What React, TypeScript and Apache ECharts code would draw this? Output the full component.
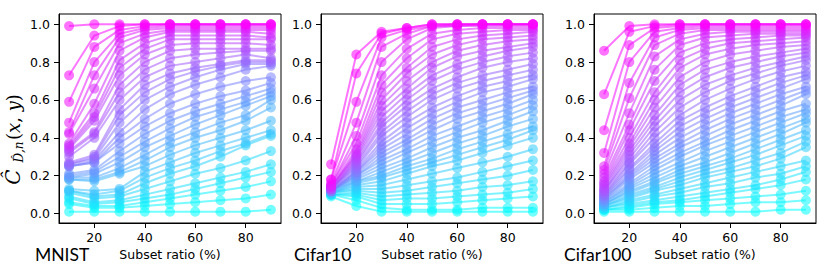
import React, { useEffect, useRef } from "react";
import * as echarts from "echarts";

const subsetRatios = [10, 20, 30, 40, 50, 60, 70, 80, 90];
const xTicks = [20, 40, 60, 80];
const yTicks = [0, 0.2, 0.4, 0.6, 0.8, 1.0];
const panelNames = ["MNIST", "Cifar10", "Cifar100"];
const xAxisName = "Subset ratio (%)";

// each row = one curve (values at 10..90 %), ordered top (magenta) -> bottom (cyan)
const mnistCurves = [
  [0.99, 1.0, 1.0, 1.0, 1.0, 1.0, 1.0, 1.0, 1.0],
  [0.73, 0.94, 0.99, 1.0, 1.0, 1.0, 1.0, 1.0, 1.0],
  [0.59, 0.88, 0.97, 0.99, 1.0, 1.0, 1.0, 1.0, 1.0],
  [0.48, 0.8, 0.95, 0.98, 0.99, 0.99, 0.99, 0.99, 0.99],
  [0.43, 0.73, 0.93, 0.97, 0.98, 0.98, 0.98, 0.98, 0.98],
  [0.42, 0.66, 0.9, 0.95, 0.97, 0.97, 0.97, 0.97, 0.97],
  [0.37, 0.58, 0.86, 0.93, 0.96, 0.96, 0.96, 0.96, 0.95],
  [0.36, 0.53, 0.81, 0.9, 0.94, 0.94, 0.94, 0.94, 0.93],
  [0.35, 0.51, 0.77, 0.87, 0.92, 0.92, 0.92, 0.92, 0.92],
  [0.34, 0.49, 0.73, 0.84, 0.89, 0.9, 0.9, 0.9, 0.89],
  [0.33, 0.43, 0.68, 0.8, 0.86, 0.87, 0.87, 0.87, 0.87],
  [0.32, 0.42, 0.64, 0.76, 0.82, 0.84, 0.85, 0.86, 0.86],
  [0.3, 0.4, 0.6, 0.72, 0.78, 0.8, 0.82, 0.84, 0.82],
  [0.27, 0.31, 0.55, 0.68, 0.74, 0.77, 0.79, 0.81, 0.81],
  [0.26, 0.3, 0.52, 0.64, 0.71, 0.75, 0.78, 0.8, 0.8],
  [0.26, 0.29, 0.48, 0.6, 0.67, 0.72, 0.76, 0.79, 0.79],
  [0.25, 0.28, 0.43, 0.55, 0.63, 0.68, 0.72, 0.76, 0.78],
  [0.25, 0.27, 0.4, 0.5, 0.58, 0.63, 0.67, 0.7, 0.72],
  [0.25, 0.27, 0.37, 0.46, 0.53, 0.58, 0.62, 0.65, 0.69],
  [0.21, 0.23, 0.33, 0.42, 0.49, 0.54, 0.58, 0.62, 0.66],
  [0.2, 0.22, 0.3, 0.38, 0.45, 0.51, 0.55, 0.59, 0.64],
  [0.19, 0.21, 0.27, 0.35, 0.41, 0.47, 0.52, 0.57, 0.62],
  [0.19, 0.19, 0.24, 0.31, 0.38, 0.43, 0.48, 0.52, 0.6],
  [0.18, 0.18, 0.22, 0.28, 0.35, 0.4, 0.44, 0.49, 0.56],
  [0.18, 0.17, 0.21, 0.25, 0.31, 0.36, 0.4, 0.44, 0.49],
  [0.13, 0.12, 0.13, 0.22, 0.27, 0.32, 0.36, 0.4, 0.44],
  [0.12, 0.1, 0.12, 0.19, 0.24, 0.28, 0.33, 0.37, 0.42],
  [0.12, 0.09, 0.1, 0.16, 0.21, 0.25, 0.3, 0.36, 0.41],
  [0.11, 0.08, 0.09, 0.13, 0.17, 0.21, 0.24, 0.28, 0.33],
  [0.09, 0.06, 0.07, 0.1, 0.13, 0.16, 0.19, 0.22, 0.26],
  [0.08, 0.05, 0.06, 0.08, 0.1, 0.13, 0.16, 0.19, 0.22],
  [0.06, 0.04, 0.04, 0.06, 0.08, 0.1, 0.12, 0.14, 0.17],
  [0.05, 0.03, 0.03, 0.04, 0.05, 0.06, 0.07, 0.08, 0.1],
  [0.01, 0.01, 0.01, 0.01, 0.01, 0.01, 0.01, 0.01, 0.02],
];

const cifar10Curves = [
  [0.26, 0.84, 0.96, 0.98, 1.0, 1.0, 1.0, 1.0, 1.0],
  [0.18, 0.74, 0.95, 0.98, 1.0, 1.0, 1.0, 1.0, 1.0],
  [0.18, 0.59, 0.93, 0.97, 0.99, 1.0, 1.0, 1.0, 1.0],
  [0.16, 0.48, 0.88, 0.95, 0.99, 0.99, 1.0, 1.0, 1.0],
  [0.15, 0.41, 0.8, 0.92, 0.98, 0.99, 0.99, 0.99, 0.99],
  [0.15, 0.37, 0.73, 0.87, 0.95, 0.97, 0.98, 0.98, 0.98],
  [0.14, 0.34, 0.68, 0.82, 0.92, 0.95, 0.96, 0.97, 0.97],
  [0.14, 0.32, 0.64, 0.77, 0.88, 0.92, 0.94, 0.95, 0.96],
  [0.14, 0.31, 0.6, 0.74, 0.84, 0.89, 0.92, 0.93, 0.94],
  [0.14, 0.3, 0.57, 0.7, 0.8, 0.86, 0.89, 0.91, 0.92],
  [0.13, 0.29, 0.54, 0.66, 0.77, 0.83, 0.86, 0.88, 0.9],
  [0.13, 0.28, 0.51, 0.63, 0.73, 0.79, 0.83, 0.86, 0.88],
  [0.13, 0.27, 0.48, 0.6, 0.7, 0.76, 0.8, 0.83, 0.85],
  [0.13, 0.26, 0.46, 0.57, 0.66, 0.72, 0.77, 0.8, 0.82],
  [0.13, 0.25, 0.43, 0.54, 0.63, 0.69, 0.73, 0.76, 0.79],
  [0.13, 0.24, 0.41, 0.51, 0.6, 0.66, 0.7, 0.73, 0.76],
  [0.12, 0.23, 0.38, 0.48, 0.56, 0.62, 0.67, 0.7, 0.73],
  [0.12, 0.22, 0.36, 0.45, 0.53, 0.59, 0.64, 0.67, 0.71],
  [0.12, 0.22, 0.34, 0.42, 0.5, 0.56, 0.6, 0.64, 0.67],
  [0.12, 0.21, 0.32, 0.39, 0.47, 0.53, 0.57, 0.61, 0.65],
  [0.12, 0.2, 0.3, 0.37, 0.44, 0.5, 0.54, 0.58, 0.63],
  [0.12, 0.2, 0.28, 0.34, 0.41, 0.46, 0.51, 0.55, 0.6],
  [0.12, 0.19, 0.26, 0.32, 0.38, 0.43, 0.48, 0.52, 0.57],
  [0.12, 0.18, 0.24, 0.29, 0.35, 0.4, 0.44, 0.49, 0.54],
  [0.12, 0.17, 0.22, 0.27, 0.32, 0.37, 0.41, 0.46, 0.5],
  [0.11, 0.17, 0.2, 0.25, 0.29, 0.34, 0.38, 0.42, 0.46],
  [0.11, 0.16, 0.19, 0.23, 0.27, 0.31, 0.35, 0.39, 0.44],
  [0.11, 0.15, 0.17, 0.21, 0.25, 0.28, 0.32, 0.36, 0.4],
  [0.11, 0.14, 0.15, 0.18, 0.21, 0.24, 0.27, 0.3, 0.34],
  [0.11, 0.13, 0.13, 0.15, 0.17, 0.19, 0.22, 0.25, 0.28],
  [0.11, 0.12, 0.11, 0.12, 0.14, 0.16, 0.18, 0.2, 0.23],
  [0.1, 0.11, 0.09, 0.1, 0.11, 0.12, 0.14, 0.15, 0.17],
  [0.1, 0.1, 0.07, 0.08, 0.08, 0.09, 0.1, 0.11, 0.13],
  [0.1, 0.09, 0.05, 0.05, 0.05, 0.06, 0.07, 0.08, 0.09],
  [0.1, 0.07, 0.03, 0.02, 0.02, 0.02, 0.03, 0.03, 0.03],
  [0.09, 0.04, 0.01, 0.01, 0.01, 0.01, 0.01, 0.01, 0.01],
];

const cifar100Curves = [
  [0.86, 0.99, 1.0, 1.0, 1.0, 1.0, 1.0, 1.0, 1.0],
  [0.63, 0.96, 0.99, 1.0, 1.0, 1.0, 1.0, 1.0, 1.0],
  [0.44, 0.89, 0.98, 0.99, 1.0, 1.0, 1.0, 1.0, 1.0],
  [0.32, 0.8, 0.96, 0.98, 0.99, 0.99, 0.99, 0.99, 0.99],
  [0.25, 0.69, 0.93, 0.97, 0.98, 0.98, 0.98, 0.98, 0.98],
  [0.23, 0.61, 0.89, 0.95, 0.97, 0.97, 0.97, 0.97, 0.97],
  [0.21, 0.53, 0.83, 0.92, 0.95, 0.96, 0.96, 0.96, 0.96],
  [0.19, 0.47, 0.76, 0.89, 0.93, 0.94, 0.95, 0.95, 0.95],
  [0.17, 0.44, 0.7, 0.85, 0.9, 0.92, 0.93, 0.94, 0.94],
  [0.16, 0.4, 0.64, 0.81, 0.87, 0.9, 0.91, 0.92, 0.93],
  [0.15, 0.37, 0.6, 0.77, 0.84, 0.87, 0.89, 0.9, 0.91],
  [0.14, 0.35, 0.56, 0.72, 0.8, 0.84, 0.86, 0.88, 0.89],
  [0.13, 0.33, 0.52, 0.68, 0.76, 0.8, 0.83, 0.85, 0.87],
  [0.12, 0.31, 0.49, 0.64, 0.72, 0.77, 0.8, 0.83, 0.85],
  [0.12, 0.29, 0.46, 0.6, 0.68, 0.73, 0.77, 0.8, 0.83],
  [0.11, 0.27, 0.43, 0.56, 0.64, 0.7, 0.74, 0.78, 0.81],
  [0.1, 0.26, 0.4, 0.52, 0.6, 0.66, 0.71, 0.75, 0.78],
  [0.1, 0.24, 0.37, 0.49, 0.56, 0.62, 0.67, 0.72, 0.75],
  [0.09, 0.23, 0.35, 0.46, 0.53, 0.59, 0.64, 0.69, 0.73],
  [0.09, 0.21, 0.33, 0.43, 0.5, 0.56, 0.61, 0.66, 0.71],
  [0.08, 0.2, 0.31, 0.4, 0.47, 0.53, 0.58, 0.63, 0.67],
  [0.08, 0.19, 0.29, 0.37, 0.44, 0.5, 0.55, 0.6, 0.65],
  [0.07, 0.18, 0.27, 0.35, 0.41, 0.47, 0.52, 0.57, 0.63],
  [0.07, 0.16, 0.25, 0.32, 0.38, 0.44, 0.49, 0.54, 0.58],
  [0.06, 0.15, 0.23, 0.3, 0.36, 0.41, 0.46, 0.51, 0.55],
  [0.06, 0.14, 0.21, 0.27, 0.33, 0.38, 0.43, 0.48, 0.53],
  [0.05, 0.13, 0.19, 0.25, 0.3, 0.35, 0.4, 0.45, 0.5],
  [0.05, 0.12, 0.17, 0.23, 0.27, 0.32, 0.37, 0.42, 0.48],
  [0.05, 0.11, 0.16, 0.21, 0.25, 0.29, 0.34, 0.39, 0.44],
  [0.04, 0.1, 0.14, 0.19, 0.23, 0.27, 0.31, 0.36, 0.41],
  [0.04, 0.09, 0.13, 0.17, 0.21, 0.24, 0.28, 0.32, 0.38],
  [0.04, 0.08, 0.12, 0.15, 0.19, 0.22, 0.25, 0.29, 0.35],
  [0.03, 0.07, 0.1, 0.13, 0.16, 0.19, 0.22, 0.25, 0.28],
  [0.03, 0.06, 0.09, 0.11, 0.14, 0.16, 0.19, 0.21, 0.25],
  [0.03, 0.05, 0.07, 0.09, 0.11, 0.13, 0.15, 0.18, 0.22],
  [0.02, 0.04, 0.06, 0.07, 0.09, 0.11, 0.13, 0.15, 0.18],
  [0.02, 0.03, 0.05, 0.06, 0.07, 0.08, 0.09, 0.1, 0.12],
  [0.02, 0.02, 0.03, 0.04, 0.04, 0.05, 0.06, 0.06, 0.07],
  [0.01, 0.01, 0.01, 0.01, 0.01, 0.01, 0.01, 0.02, 0.02],
];

const panels = [mnistCurves, cifar10Curves, cifar100Curves];

// layout
const GRID_LEFTS = [59, 321, 594];
const GRID_TOP = 14;
const GRID_W = 222;
const GRID_H = 209;
const TITLE_X = [35, 294, 564];

function coolColor(t: number): string {
  const r = Math.round(255 * t);
  const g = Math.round(255 * (1 - t));
  return `rgb(${r},${g},255)`;
}

export default function App() {
  const ref = useRef<HTMLDivElement>(null);

  useEffect(() => {
    if (!ref.current) return;
    const chart = echarts.init(ref.current, undefined, { renderer: "svg" });

    const tickFont = { fontFamily: "DejaVu Sans", fontSize: 12.5, color: "#000" };

    const grids = GRID_LEFTS.map((left) => ({
      left,
      top: GRID_TOP,
      width: GRID_W,
      height: GRID_H,
      show: true,
      borderColor: "#000",
      borderWidth: 1,
      backgroundColor: "transparent",
    }));

    const xAxes = GRID_LEFTS.map((_, p) => ({
      type: "value",
      gridIndex: p,
      min: 6,
      max: 94,
      splitLine: { show: false },
      axisLine: { show: true, onZero: false, lineStyle: { color: "#000", width: 1 } },
      axisTick: { show: true, length: 5, customValues: xTicks, lineStyle: { color: "#000" } },
      axisLabel: { ...tickFont, margin: 8, customValues: xTicks, formatter: (v: number) => String(v) },
    }));

    const yAxes = GRID_LEFTS.map((_, p) => ({
      type: "value",
      gridIndex: p,
      min: -0.05,
      max: 1.054,
      splitLine: { show: false },
      axisLine: { show: true, onZero: false, lineStyle: { color: "#000", width: 1 } },
      axisTick: { show: true, length: 5, customValues: yTicks, lineStyle: { color: "#000" } },
      axisLabel: { ...tickFont, margin: 9, customValues: yTicks, formatter: (v: number) => v.toFixed(1) },
    }));

    const series: any[] = [];
    panels.forEach((curves, p) => {
      const n = curves.length;
      for (let i = n - 1; i >= 0; i--) {
        const t = 1 - i / (n - 1);
        const color = coolColor(t);
        series.push({
          type: "line",
          xAxisIndex: p,
          yAxisIndex: p,
          data: subsetRatios.map((x, j) => [x, curves[i][j]]),
          symbol: "circle",
          symbolSize: 10,
          showSymbol: true,
          silent: true,
          emphasis: { disabled: true },
          lineStyle: { color, width: 2, opacity: 0.55 },
          itemStyle: { color, opacity: 0.55, borderWidth: 0 },
        });
      }
    });

    const graphics: any[] = [];
    panelNames.forEach((name, p) => {
      graphics.push({
        type: "text",
        x: TITLE_X[p],
        y: 254,
        style: {
          text: name,
          fontFamily: "Lato",
          fontSize: 17.5,
          fill: "#000",
          align: "left",
          verticalAlign: "middle",
        },
      });
      graphics.push({
        type: "text",
        x: GRID_LEFTS[p] + GRID_W / 2,
        y: 254,
        style: {
          text: xAxisName,
          fontFamily: "DejaVu Sans",
          fontSize: 12.5,
          fill: "#000",
          align: "center",
          verticalAlign: "middle",
        },
      });
    });

    // y-axis label: Ĉ_{D̂,n}(x, y), rotated
    graphics.push({
      type: "text",
      x: 13,
      y: 177,
      rotation: Math.PI / 2,
      style: {
        text: "Ĉ",
        fontFamily: "DejaVu Serif",
        fontStyle: "italic",
        fontSize: 20,
        fill: "#000",
        align: "center",
        verticalAlign: "middle",
      },
    });
    graphics.push({
      type: "text",
      x: 19,
      y: 152,
      rotation: Math.PI / 2,
      style: {
        text: "D̂,n",
        fontFamily: "DejaVu Serif",
        fontStyle: "italic",
        fontSize: 12,
        fill: "#000",
        align: "center",
        verticalAlign: "middle",
      },
    });
    graphics.push({
      type: "text",
      x: 13,
      y: 117,
      rotation: Math.PI / 2,
      style: {
        text: "{r|(}{i|x}{r|, }{i|y}{r|)}",
        fill: "#000",
        align: "center",
        verticalAlign: "middle",
        rich: {
          r: { fontFamily: "DejaVu Serif", fontSize: 18, fill: "#000" },
          i: { fontFamily: "DejaVu Serif", fontStyle: "italic", fontSize: 18, fill: "#000" },
        },
      },
    });

    chart.setOption({
      animation: false,
      backgroundColor: "#fff",
      grid: grids,
      xAxis: xAxes,
      yAxis: yAxes,
      series,
      graphic: graphics,
    });

    return () => chart.dispose();
  }, []);

  return (
    <div
      ref={ref}
      style={{ position: "absolute", left: 0, top: 0, width: 830, height: 272 }}
    />
  );
}
